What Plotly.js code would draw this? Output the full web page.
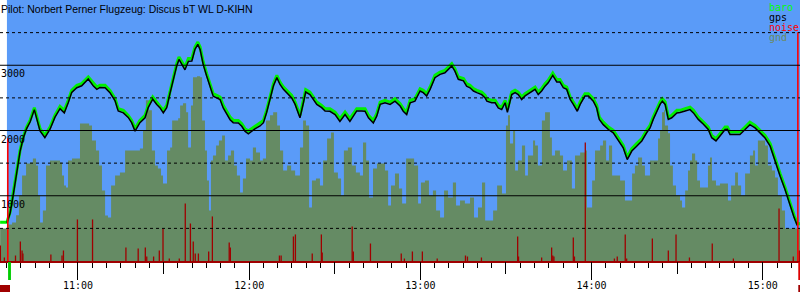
<!DOCTYPE html>
<html><head><meta charset="utf-8">
<script src="https://cdn.plot.ly/plotly-3.0.1.min.js"></script>
<style>html,body{margin:0;padding:0;background:#fff}#chart{width:800px;height:300px}</style>
</head><body><div id="chart"></div>
<script>
const DAY = '2000-01-01';
const titleText = 'Pilot: Norbert Perner Flugzeug: Discus bT WL D-KIHN';

// time values are minutes after 10:00
const viewStartMin = 32.67, viewEndMin = 313.05;
const takeoffMin = 35.1;
const startMarkMin = [35.5, 36.5];
const startBarMin = [32.67, 36.17];
const endMarkMin = [312.45, 313.05];

const baroMin = [32.7,35.1,36.2,37.3,38.5,39.7,40.8,42.0,43.2,44.7,46.7,48.4,50.2,51.9,53.7,55.2,56.6,57.8,59.6,61.3,63.6,65.4,66.6,67.7,69.5,71.2,73.0,74.1,75.9,77.6,78.8,80.0,81.7,83.5,84.6,86.2,87.6,88.7,89.9,91.1,92.3,93.4,94.6,95.4,96.4,97.5,98.7,99.9,101.0,102.0,102.8,103.9,105.1,106.3,107.4,108.6,109.8,110.9,112.1,113.3,114.4,116.2,117.4,118.5,119.7,120.9,122.0,123.8,125.0,126.1,127.3,128.5,129.7,130.8,132.0,133.2,134.9,136.1,137.2,137.8,139.0,139.8,141.3,142.5,143.7,145.4,146.6,148.3,150.1,151.8,153.6,155.3,156.5,157.7,159.4,160.6,161.8,163.5,164.7,165.9,167.6,169.4,171.1,172.9,174.0,175.2,176.4,178.1,179.9,181.0,182.2,183.4,185.1,186.9,188.6,189.8,191.0,192.1,193.3,195.1,196.2,197.4,198.6,199.8,201.5,202.7,203.3,205.0,206.2,207.3,208.5,209.7,210.5,212.0,213.2,214.3,215.5,216.7,218.4,220.2,221.3,222.5,223.7,224.8,226.4,227.8,228.9,230.1,231.3,232.5,233.6,235.0,236.0,237.7,238.9,240.6,241.8,242.7,244.1,245.9,247.6,249.4,251.1,252.5,254.1,255.8,257.6,259.3,260.5,261.6,262.8,264.0,264.8,265.8,266.9,268.1,269.9,271.0,272.8,274.5,275.7,277.4,279.2,280.9,282.1,283.6,285.0,286.8,287.6,288.5,290.3,292.0,293.8,295.5,297.3,299.1,300.8,302.6,304.3,306.1,307.8,309.6,311.0,312.1,313.05];
const baroAlt = [595,595,749,1031,1388,1695,1899,2053,2155,2350,2028,1925,2053,2232,2370,2309,2462,2616,2692,2718,2820,2718,2666,2692,2692,2616,2488,2335,2309,2232,2155,2028,2155,2232,2385,2513,2436,2385,2309,2385,2616,2820,3025,3126,3050,2973,3102,3102,3280,3356,3280,3050,2872,2692,2565,2539,2513,2385,2283,2206,2155,2155,2105,2028,1991,2028,2063,2105,2155,2309,2539,2718,2846,2743,2666,2616,2539,2436,2309,2232,2462,2626,2589,2513,2436,2385,2335,2335,2283,2181,2283,2181,2258,2335,2335,2335,2232,2155,2258,2436,2462,2436,2488,2411,2335,2283,2462,2488,2641,2616,2565,2666,2846,2896,2922,2973,3025,2948,2820,2795,2718,2692,2641,2616,2589,2539,2488,2462,2462,2385,2357,2462,2319,2589,2616,2589,2513,2565,2616,2666,2589,2641,2718,2769,2881,2780,2780,2692,2666,2513,2436,2335,2436,2565,2565,2488,2385,2206,2129,2053,2002,1875,1772,1592,1721,1798,1875,2002,2079,2206,2335,2436,2488,2436,2206,2232,2309,2309,2335,2359,2309,2206,2129,2053,1925,1875,1951,2053,2053,1976,1976,1976,2053,2129,2079,2002,1925,1798,1568,1338,1132,877,698,571,571];

const gpsMin = [35.1,36.2,37.3,38.5,39.7,40.8,42.0,43.2,44.7,46.7,48.4,50.2,51.9,53.7,55.2,56.6,57.8,59.6,61.3,63.6,65.4,66.6,67.7,69.5,71.2,73.0,74.1,75.9,77.6,78.8,80.0,81.7,83.5,84.6,86.2,87.6,88.7,89.9,91.1,92.3,93.4,94.6,95.4,96.4,97.5,98.7,99.9,101.0,102.0,102.8,103.9,105.1,106.3,107.4,108.6,109.8,110.9,112.1,113.3,114.4,116.2,117.4,118.5,119.7,120.9,122.0,123.8,125.0,126.1,127.3,128.5,129.7,130.8,132.0,133.2,134.9,136.1,137.2,137.8,139.0,139.8,141.3,142.5,143.7,145.4,146.6,148.3,150.1,151.8,153.6,155.3,156.5,157.7,159.4,160.6,161.8,163.5,164.7,165.9,167.6,169.4,171.1,172.9,174.0,175.2,176.4,178.1,179.9,181.0,182.2,183.4,185.1,186.9,188.6,189.8,191.0,192.1,193.3,195.1,196.2,197.4,198.6,199.8,201.5,202.7,203.3,205.0,206.2,207.3,208.5,209.7,210.5,212.0,213.2,214.3,215.5,216.7,218.4,220.2,221.3,222.5,223.7,224.8,226.4,227.8,228.9,230.1,231.3,232.5,233.6,235.0,236.0,237.7,238.9,240.6,241.8,242.7,244.1,245.9,247.6,249.4,251.1,252.5,254.1,255.8,257.6,259.3,260.5,261.6,262.8,264.0,264.8,265.8,266.9,268.1,269.9,271.0,272.8,274.5,275.7,277.4,279.2,280.9,282.1,283.6,285.0,286.8,287.6,288.5,290.3,292.0,293.8,295.5,297.3,299.1,300.8,302.6,304.3,306.1,307.8,309.6,311.0,312.1];
const gpsAlt = [585,730,1010,1370,1680,1880,2030,2130,2320,1995,1890,2020,2200,2335,2270,2430,2585,2655,2685,2790,2680,2630,2660,2655,2580,2455,2300,2270,2200,2120,1990,2120,2195,2350,2480,2400,2350,2270,2350,2580,2785,2990,3090,3005,2930,3060,3065,3245,3320,3240,3010,2835,2655,2525,2500,2475,2345,2245,2165,2120,2115,2065,1990,1950,1990,2025,2070,2120,2275,2505,2685,2810,2705,2630,2580,2500,2400,2270,2195,2425,2590,2550,2475,2400,2350,2300,2295,2245,2140,2245,2140,2220,2300,2300,2295,2195,2115,2220,2400,2425,2400,2450,2375,2295,2245,2425,2450,2605,2580,2530,2630,2810,2860,2885,2940,2990,2910,2785,2760,2680,2655,2605,2580,2550,2500,2450,2425,2425,2345,2320,2425,2280,2550,2580,2550,2475,2530,2580,2630,2550,2605,2680,2730,2845,2745,2745,2655,2630,2475,2400,2295,2400,2530,2530,2450,2345,2170,2090,2015,1965,1840,1735,1555,1685,1760,1840,1965,2040,2170,2300,2400,2450,2400,2170,2195,2270,2275,2300,2320,2270,2170,2095,2015,1890,1840,1915,2015,2020,1940,1940,1940,2015,2090,2040,1965,1885,1760,1530,1300,1095,845,665,545];

const gndMin = [32.7,35.5,36.9,38.3,39.3,40.4,41.8,43.2,44.2,45.3,46.0,46.7,47.7,48.8,50.2,51.9,53.7,54.4,55.1,55.8,56.5,57.9,59.3,60.7,62.5,63.9,64.9,66.3,67.4,68.4,69.5,70.5,71.6,73.0,74.7,76.5,78.2,80.0,81.7,82.8,83.8,84.9,85.9,87.0,88.0,89.1,89.8,91.2,92.3,93.0,95.1,95.8,96.8,97.9,98.6,99.6,100.3,101.7,102.8,103.5,104.5,105.2,105.9,106.6,107.3,108.4,109.4,110.5,111.5,112.6,113.6,114.7,115.7,116.8,117.8,118.9,120.3,121.3,122.4,123.8,124.8,125.9,127.3,128.4,129.8,130.8,131.9,133.3,134.7,136.1,137.8,138.9,139.9,141.0,142.0,143.4,144.8,145.9,147.3,148.7,149.7,151.1,152.2,153.2,154.6,156.0,157.4,158.8,159.9,161.0,162.0,163.4,164.8,166.2,167.6,168.7,169.7,171.1,172.5,173.6,175.0,176.4,177.8,179.2,180.2,181.6,183.0,184.4,185.5,186.9,188.3,189.7,191.4,192.5,193.9,195.6,197.4,198.8,200.2,201.6,202.7,204.4,205.5,206.9,208.6,210.0,210.7,211.4,212.5,213.2,214.2,215.6,216.7,217.7,219.5,220.2,221.2,222.6,223.7,224.7,225.4,226.1,227.2,228.9,230.0,231.4,232.4,233.1,234.2,236.0,237.7,238.4,239.5,240.2,241.2,243.0,244.0,245.1,246.1,247.2,248.2,250.0,251.7,252.8,254.2,255.2,256.3,257.7,258.7,259.4,260.5,262.2,263.3,264.0,264.7,265.4,265.7,266.8,267.5,268.5,269.6,271.0,271.7,272.8,273.8,274.5,275.2,276.3,277.0,278.0,279.8,280.8,281.5,282.2,283.6,285.0,286.8,287.8,288.9,290.3,291.3,292.4,293.8,294.8,295.5,296.6,297.3,298.3,299.7,300.8,301.8,303.2,304.3,305.3,306.7,307.8,313.1];
const gndAlt = [500,560,590,700,1005,1311,1496,1511,1572,1465,1005,590,775,1465,1542,1542,1511,1311,1158,1127,1542,1572,1572,2109,2109,2078,1848,1695,1465,1081,698,667,1158,1311,1358,1695,1695,1695,1726,2002,2462,2309,1695,1465,1419,1311,1189,1695,1741,2155,2186,2385,2416,2278,1741,2385,2815,2830,2815,2155,1695,1235,775,1542,1618,1772,1848,1925,1542,1618,1695,1465,1311,1051,1265,1572,1542,1741,1664,1542,1572,2155,2232,2278,2078,1695,1388,1465,1388,1311,1741,2155,2078,821,1235,1265,1158,1542,1879,1971,1358,1265,1005,1695,1741,1465,1358,1311,1818,1542,974,1419,1496,1496,1388,851,1158,1342,1112,882,1572,1572,1465,882,1204,1235,1005,1081,775,667,1081,974,1204,851,928,882,974,667,821,1204,621,621,775,1158,1035,2078,2232,1802,2002,1388,1542,1772,1311,1618,1848,1772,1465,2155,2278,2278,1894,1618,1695,1618,1388,1542,1542,1112,1618,1664,1695,821,821,1235,1695,1772,1848,1542,1772,1311,1311,1235,928,928,1342,1465,1588,1465,1311,1311,1542,1542,1879,2002,2278,2309,2078,1956,1465,1158,1005,928,821,1081,1388,1542,1649,1542,1235,1127,1127,1465,1588,1235,1158,1189,1189,928,1158,1358,1158,1005,1342,1342,1618,1695,1465,1848,1848,1772,1465,1388,1281,1005,775,498,498];

const noiseMin = [32.8,34.2,38.1,39.8,40.4,40.7,50.5,54.4,54.9,59.8,65.1,76.8,81.1,83.6,84.1,86.5,88.5,89.8,92.0,95.5,97.6,99.4,100.4,101.1,102.2,105.8,107.1,113.0,113.4,130.6,131.2,135.5,136.2,142.1,145.3,145.6,156.1,156.5,162.5,173.3,174.4,177.2,180.7,185.9,195.8,196.5,201.4,214.1,214.4,222.5,226.0,226.4,226.8,233.6,234.0,237.8,248.0,249.0,251.8,252.3,261.3,266.9,269.6,274.3,282.3,289.7,305.7,310.7,312.8];
const noiseVal = [238,54,84,299,161,115,100,84,161,637,637,207,192,207,69,69,161,499,38,38,882,575,299,115,115,146,683,284,207,84,84,376,407,115,407,130,530,146,268,115,38,146,146,38,84,69,54,376,69,54,207,84,69,360,69,1818,38,69,407,38,345,161,407,54,268,38,805,69,161];
const engineMin = [35.4, 312.3];
const engineVal = [1880, 3505];

const ySolid = [1000, 2000, 3000];
const yDashed = [500, 1500, 2500, 3500];
const legendNames = ['baro', 'gps', 'noise', 'gnd'];
const legendColors = ['#00ff00', '#000000', '#ff0000', '#6b8a60'];

const BLUE = '#5a9bf8', GND = '#658b64', DARKRED = '#a00000';

function pad(n){ return (n < 10 ? '0' : '') + n; }
function t(m){
  const s = Math.round(m * 60);
  const hh = 10 + Math.floor(s / 3600), mm = Math.floor((s % 3600) / 60), ss = s % 60;
  return DAY + ' ' + pad(hh) + ':' + pad(mm) + ':' + pad(ss);
}
function spikes(ms, vs){
  const x = [], y = [];
  ms.forEach((m, i) => { x.push(t(m), t(m), null); y.push(0, vs[i], null); });
  return {x, y};
}

const nz = spikes(noiseMin, noiseVal);
const en = spikes(engineMin, engineVal);

const traces = [
  {type:'scatter', mode:'lines', x: gndMin.map(t), y: gndAlt, fill:'tozeroy', fillcolor: GND,
   line:{width:0, shape:'hv', color: GND}, hoverinfo:'skip'},
  {type:'scatter', mode:'lines', x: nz.x, y: nz.y, line:{width:1.3, color: DARKRED}, hoverinfo:'skip'},
  {type:'scatter', mode:'lines', x: en.x, y: en.y, xaxis:'x2', line:{width:1.6, color:'#ff0000'}, hoverinfo:'skip'},
  {type:'scatter', mode:'lines', x: baroMin.map(t), y: baroAlt, line:{width:3, color:'#00f000'}, hoverinfo:'skip'},
  {type:'scatter', mode:'lines', x: gpsMin.map(t), y: gpsAlt, line:{width:1.5, color:'#000000'}, hoverinfo:'skip'}
];

const shapes = [
  {type:'rect', xref:'x', yref:'paper', x0: t(takeoffMin), x1: t(viewEndMin), y0:0, y1:1,
   fillcolor: BLUE, line:{width:0}, layer:'below'}
];
ySolid.forEach(v => shapes.push({type:'line', xref:'paper', yref:'y', x0:0, x1:1, y0:v, y1:v,
  line:{color:'#000', width:1}, layer:'above'}));
yDashed.forEach(v => shapes.push({type:'line', xref:'paper', yref:'y', x0:0, x1:1, y0:v, y1:v,
  line:{color:'#000', width:1, dash:'3px,3px'}, layer:'above'}));
shapes.push({type:'rect', xref:'x', yref:'paper', x0:t(startMarkMin[0]), x1:t(startMarkMin[1]), y0:-0.0728, y1:-0.004,
  fillcolor:'#00cc00', line:{width:0}});
shapes.push({type:'rect', xref:'x', yref:'paper', x0:t(startBarMin[0]), x1:t(startBarMin[1]), y0:-0.1188, y1:-0.092,
  fillcolor:'#a00000', line:{width:0}});
shapes.push({type:'rect', xref:'x', yref:'paper', x0:t(endMarkMin[0]), x1:t(endMarkMin[1]), y0:-0.0728, y1:-0.004,
  fillcolor:'#dd0000', line:{width:0}});
shapes.push({type:'rect', xref:'x', yref:'paper', x0:t(endMarkMin[0]), x1:t(endMarkMin[1]), y0:-0.1188, y1:-0.092,
  fillcolor:'#a00000', line:{width:0}});

const mono = 'DejaVu Sans Mono, monospace';
const annotations = [];
ySolid.forEach(v => annotations.push({xref:'paper', yref:'y', x:0, y:v, xanchor:'left', yanchor:'top',
  xshift:-1, yshift:-1, showarrow:false, text:String(v), font:{family:mono, size:10, color:'#000'}}));
legendNames.forEach((n, i) => annotations.push({xref:'paper', yref:'paper', x:767/800, y:1 - (7.5 + 10*i)/261,
  xanchor:'left', yanchor:'middle', showarrow:false, text:n, font:{family:mono, size:10, color:legendColors[i]}}));
annotations.push({xref:'paper', yref:'paper', x:0, y:1, xanchor:'left', yanchor:'top', xshift:-1, yshift:-1,
  showarrow:false, text:titleText, font:{family:'Liberation Sans, Arial, sans-serif', size:10.5, color:'#000'}});

const range = [t(viewStartMin), t(viewEndMin)];
const layout = {
  width:800, height:300,
  margin:{l:0, r:0, t:0, b:39, pad:0},
  paper_bgcolor:'#ffffff', plot_bgcolor:'#ffffff',
  showlegend:false,
  xaxis:{type:'date', range:range, showgrid:false, zeroline:false, showline:true, linecolor:DARKRED, linewidth:2,
    ticks:'outside', ticklen:17, tickwidth:1, tickcolor:'#000', dtick:3600000, tickformat:'%H:%M',
    tickfont:{family:mono, size:10, color:'#000'}, ticklabelstandoff:-3,
    minor:{dtick:300000, ticks:'outside', ticklen:5, tickwidth:1, tickcolor:'#000', showgrid:false},
    fixedrange:true},
  xaxis2:{type:'date', overlaying:'x', anchor:'y', side:'bottom', range:range, showgrid:false, zeroline:false,
    showline:false, ticks:'outside', ticklen:12, tickwidth:1, tickcolor:'#000', dtick:1800000,
    showticklabels:false, fixedrange:true},
  yaxis:{range:[0,4000], showgrid:false, zeroline:false, showline:false, showticklabels:false, ticks:'', fixedrange:true},
  shapes:shapes,
  annotations:annotations
};

Plotly.newPlot('chart', traces, layout, {staticPlot:true, displayModeBar:false});
</script>
</body></html>
